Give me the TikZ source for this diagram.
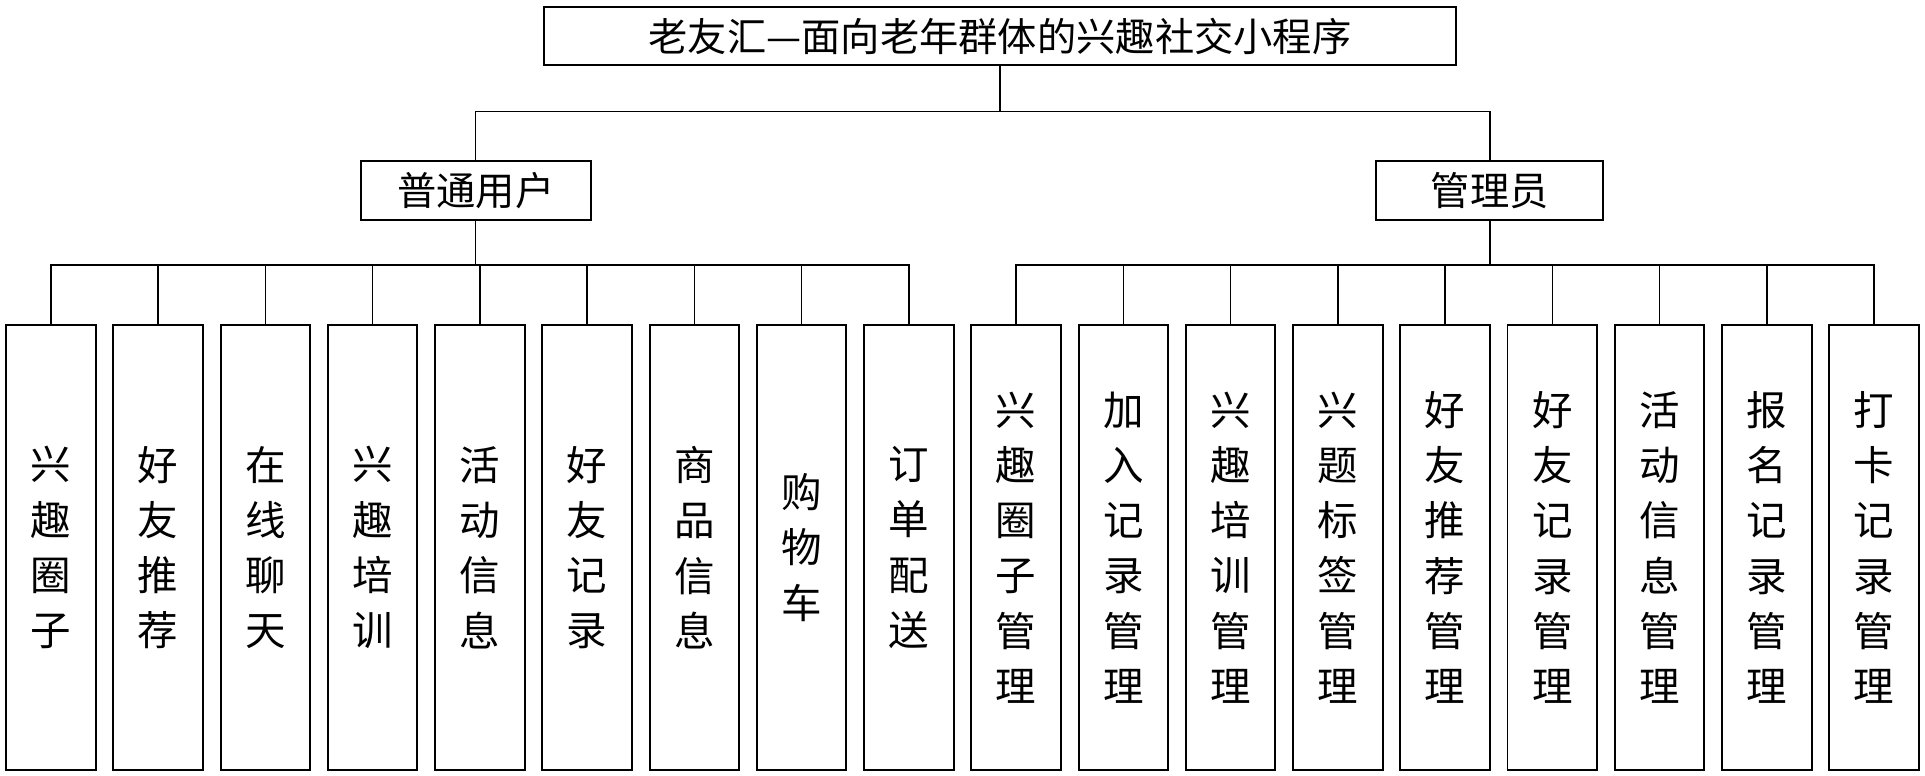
\documentclass[tikz,border=0pt]{standalone}
\usepackage{fontspec}
\newfontfamily\cjk{Noto Sans CJK SC}
\tikzset{
  box/.style={draw, line width=1.6pt, inner sep=0pt, font=\cjk\fontsize{32}{36}\selectfont},
  leaf/.style={box, minimum width=73pt, minimum height=362pt, align=center,
    font=\cjk\fontsize{33}{45}\selectfont},
  link/.style={line width=1.2pt}
}
\begin{document}
\begin{tikzpicture}[x=1pt, y=-1pt]
  \useasboundingbox (0,0) rectangle (1568,632);
  % top level
  \node[box, minimum width=743pt, minimum height=47pt] (app) at (814.5,29.5) {老友汇—面向老年群体的兴趣社交小程序};
  \node[box, minimum width=187pt, minimum height=48pt] (user) at (387.5,155) {普通用户};
  \node[box, minimum width=185pt, minimum height=48pt] (admin) at (1213.5,155) {管理员};
  \draw[link] (app.south) -- ++(0,37) -| (user.north);
  \draw[link] (app.south) -- ++(0,37) -| (admin.north);
  % leaves
  \foreach \t [count=\i from 0] in {兴\\趣\\圈\\子, 好\\友\\推\\荐, 在\\线\\聊\\天, 兴\\趣\\培\\训,
      活\\动\\信\\息, 好\\友\\记\\录, 商\\品\\信\\息, 购\\物\\车, 订\\单\\配\\送,
      兴\\趣\\圈\\子\\管\\理, 加\\入\\记\\录\\管\\理, 兴\\趣\\培\\训\\管\\理, 兴\\题\\标\\签\\管\\理,
      好\\友\\推\\荐\\管\\理, 好\\友\\记\\录\\管\\理, 活\\动\\信\\息\\管\\理, 报\\名\\记\\录\\管\\理,
      打\\卡\\记\\录\\管\\理}
    \node[leaf] (m\i) at ({41.5+87.35*\i},446) {\t};
  \foreach \i in {0,...,8}
    \draw[link] (user.south) -- ++(0,36) -| (m\i.north);
  \foreach \i in {9,...,17}
    \draw[link] (admin.south) -- ++(0,36) -| (m\i.north);
\end{tikzpicture}
\end{document}
